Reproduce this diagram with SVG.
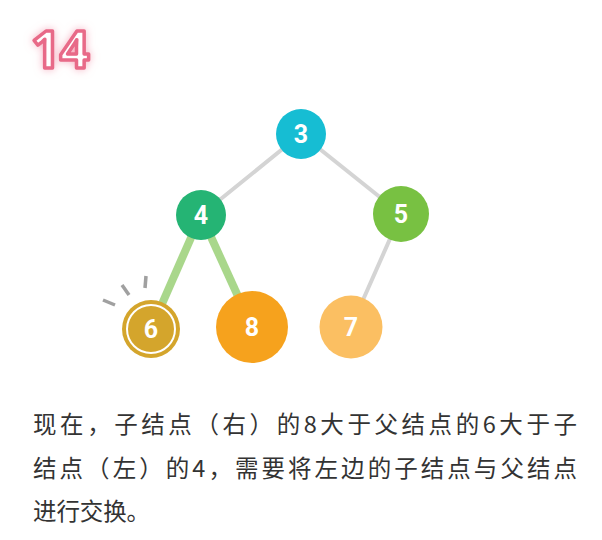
<svg xmlns="http://www.w3.org/2000/svg" width="602" height="540" viewBox="0 0 602 540">
<defs>
<filter id="glow" x="-50%" y="-50%" width="200%" height="200%">
<feGaussianBlur in="SourceAlpha" stdDeviation="4" result="b"/>
<feFlood flood-color="#f4a0b4" flood-opacity="0.8"/>
<feComposite in2="b" operator="in" result="g"/>
<feMerge><feMergeNode in="g"/><feMergeNode in="SourceGraphic"/></feMerge>
</filter>
</defs>
<style>
.n{font-family:Roboto,"DejaVu Sans",sans-serif;font-weight:bold;font-size:25px;fill:#fff;text-anchor:middle;dominant-baseline:central}
.e{stroke:#d4d4d4;stroke-width:4;stroke-linecap:round}
.g{stroke:#a9d78b;stroke-width:8}
.t{font-family:"Noto Sans CJK SC","Noto Sans",sans-serif;font-size:23.5px;fill:#333}
.tick{stroke:#a0a0a0;stroke-width:3.5}
</style>
<rect width="602" height="540" fill="#fff"/>
<text x="31" y="68" filter="url(#glow)" style="font-family:'Open Sans','DejaVu Sans',sans-serif;font-weight:bold;font-size:52px;fill:#fff;stroke:#e86a88;stroke-width:3.5;stroke-linejoin:round;letter-spacing:-1px">14</text>
<g id="connectors">
<line class="e" x1="301" y1="134" x2="201" y2="215"/>
<line class="e" x1="301" y1="134" x2="401" y2="214"/>
<line class="e" x1="401" y1="214" x2="351" y2="327"/>
<line class="g" x1="201" y1="215" x2="151" y2="329"/>
<line class="g" x1="201" y1="215" x2="252" y2="327"/>
</g>
<g id="ticks">
<line class="tick" x1="103" y1="300" x2="115" y2="305"/>
<line class="tick" x1="122" y1="285" x2="129" y2="295"/>
<line class="tick" x1="146" y1="276" x2="145" y2="288"/>
</g>
<g id="node3"><circle cx="301" cy="134" r="25" fill="#16bdd3"/><text class="n" x="301" y="134">3</text></g>
<g id="node4"><circle cx="201" cy="215" r="25" fill="#25b474"/><text class="n" x="201" y="215">4</text></g>
<g id="node5"><circle cx="401" cy="214" r="28" fill="#78c142"/><text class="n" x="401" y="214">5</text></g>
<g id="node6"><circle cx="151" cy="329" r="29" fill="#d4a52c"/><circle cx="151" cy="329" r="24" fill="none" stroke="#fff" stroke-width="2"/><text class="n" x="151" y="329">6</text></g>
<g id="node8"><circle cx="252" cy="327" r="36" fill="#f6a21d"/><text class="n" x="252" y="327">8</text></g>
<g id="node7"><circle cx="351" cy="327" r="31.5" fill="#fbbf62"/><text class="n" x="351" y="327">7</text></g>
<text class="t" x="33" y="433" textLength="544" lengthAdjust="spacing">现在，子结点（右）的8大于父结点的6大于子</text>
<text class="t" x="33" y="477" textLength="544" lengthAdjust="spacing">结点（左）的4，需要将左边的子结点与父结点</text>
<text class="t" x="33" y="520" textLength="117" lengthAdjust="spacing">进行交换。</text>
</svg>
